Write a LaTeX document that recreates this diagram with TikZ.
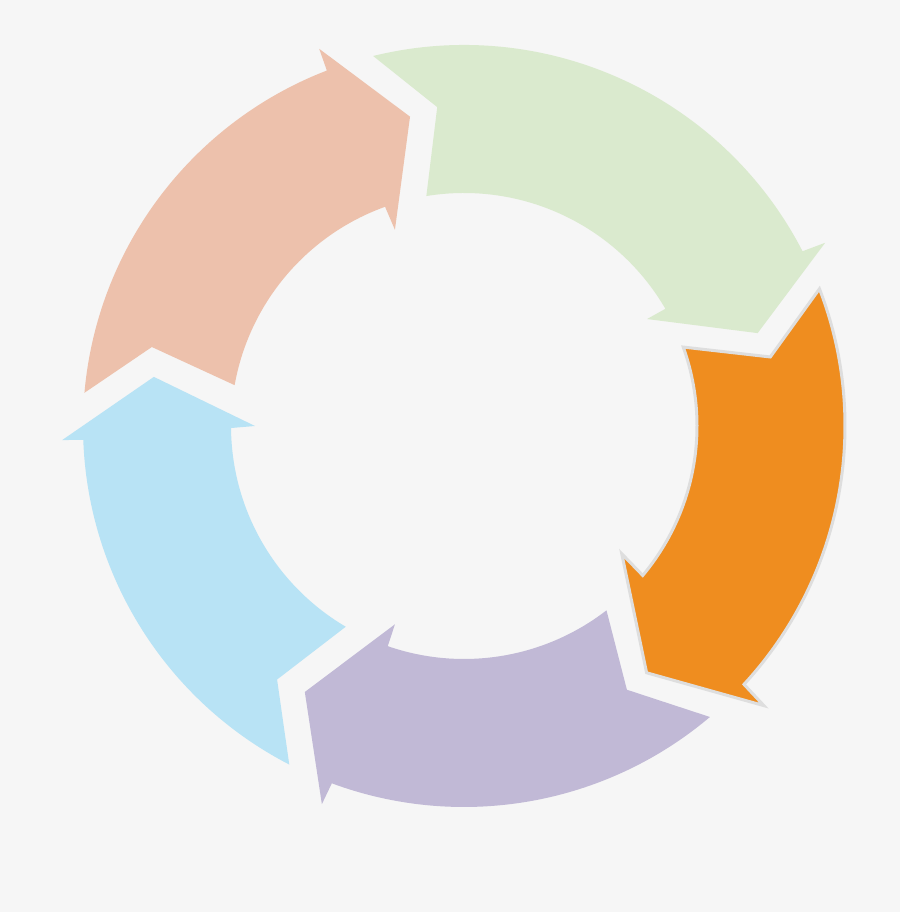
\documentclass[tikz,border=0pt]{standalone}
\definecolor{bgc}{HTML}{F6F6F6}
\definecolor{salmonc}{HTML}{EDC1AC}
\definecolor{greenc}{HTML}{DAEACE}
\definecolor{orangec}{HTML}{EF8D1F}
\definecolor{purplec}{HTML}{C1B9D6}
\definecolor{bluec}{HTML}{B8E3F5}
\definecolor{rimc}{HTML}{DEDEDE}
\begin{document}
\begin{tikzpicture}[x=1pt,y=1pt,
  seg/.style={line join=miter}]
\fill[bgc] (0,0) rectangle (900,912);
\useasboundingbox (0,0) rectangle (900,912);
\begin{scope}[shift={(464,486)}]
% salmon (top-left)
\fill[salmonc,seg] (175:381) arc[start angle=175,end angle=111.1,radius=381]
  -- (111:404) -- (99.9:314) -- (109.4:208) -- (109.8:233)
  arc[start angle=109.8,end angle=169.9,radius=233] -- (165.8:322) -- cycle;
% green (top-right)
\fill[greenc,seg] (103.8:381) arc[start angle=103.8,end angle=27.3,radius=381]
  -- (26.9:405) -- (17.55:308) -- (30.3:212) -- (30.2:233)
  arc[start angle=30.2,end angle=99.3,radius=233] -- (94.8:320) -- cycle;
% orange (right)
\filldraw[fill=orangec,draw=rimc,line width=3,seg] (21.1:381) arc[start angle=21.1,end angle=-42.7,radius=381]
  -- (-43:410) -- (-53.5:307) -- (-39:203) -- (-39.9:233)
  arc[start angle=-39.9,end angle=19.8,radius=233] -- (12.7:314) -- cycle;
% purple (bottom)
\fill[purplec,seg] (-49.8:381) arc[start angle=-49.8,end angle=-110.3,radius=381]
  -- (-110.6:404) -- (-120.9:310) -- (-109.2:210) -- (-109.1:233)
  arc[start angle=-109.1,end angle=-52.3,radius=233] -- (-58.3:310) -- cycle;
% blue (left)
\fill[bluec,seg] (242.7:381) arc[start angle=242.7,end angle=182.1,radius=381]
  -- (182:402) -- (171:314) -- (180:209) -- (180.5:233)
  arc[start angle=180.5,end angle=239.5,radius=233] -- (233.6:315) -- cycle;
\end{scope}
\end{tikzpicture}
\end{document}
